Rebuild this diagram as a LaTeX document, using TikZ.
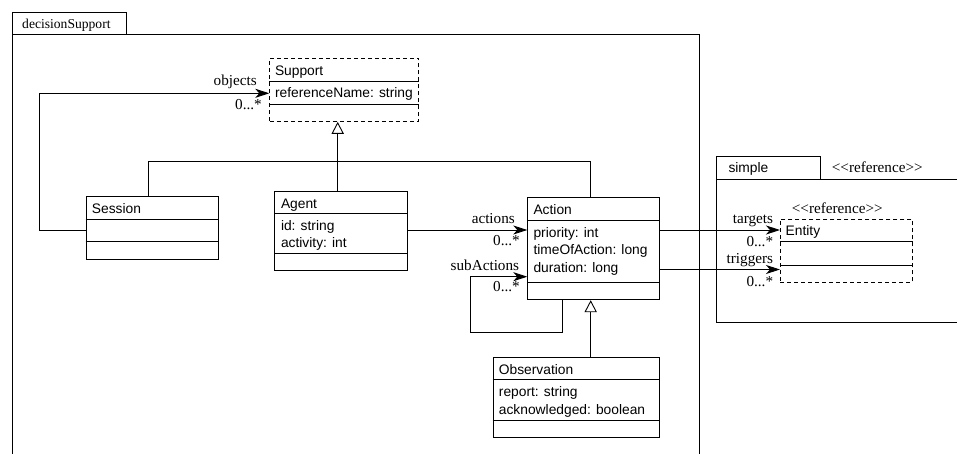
\documentclass[tikz,border=0pt]{standalone}
\usepackage{fontspec}
\setmainfont{Liberation Serif}
\setsansfont{Liberation Sans}
\usetikzlibrary{arrows.meta}
\begin{document}
\begin{tikzpicture}[x=1pt,y=-1pt,
  ln/.style={line width=0.9pt},
  box/.style={draw, line width=0.9pt, anchor=north west, inner sep=0pt},
  dbox/.style={box, dash pattern=on 4pt off 3pt},
  cls/.style={font=\fontsize{13.8}{16}\sffamily, anchor=base west, inner sep=0pt},
  lbl/.style={font=\fontsize{15.2}{17}\selectfont, anchor=base east, inner sep=0pt},
  stereo/.style={font=\fontsize{15.2}{17}\selectfont, anchor=base west, inner sep=0pt},
  assoc/.style={-{Stealth[length=14pt,width=9pt,inset=4pt]}, line width=0.9pt},
  gen/.style={-{Triangle[open,length=12pt,width=12.3pt]}, line width=0.9pt}]
\useasboundingbox (0,0) rectangle (957,454);

% package decisionSupport
\draw[ln] (12,454) -- (12,12.3) -- (126,12.3) -- (126,34.7);
\draw[ln] (12,34.7) -- (699,34.7) -- (699,454);
\node[font=\fontsize{13.6}{16}\selectfont, anchor=base west, inner sep=0pt] (dstitle) at (22,29) {decisionSupport};

% package simple
\draw[ln] (716,179) -- (716,156) -- (820,156) -- (820,179);
\draw[ln] (957,179) -- (716,179) -- (716,322) -- (957,322);
\node[cls] (simpletitle) at (728.3,172.7) {simple};
\node[stereo] (simplestereo) at (831.7,172.7) {<{}<reference>{}>};

% Support
\node[dbox, minimum width=149pt, minimum height=63pt] (support) at (269.3,58) {};
\draw[ln] (support.west |- 0,81) -- (support.east |- 0,81);
\draw[ln] (support.west |- 0,104) -- (support.east |- 0,104);
\node[cls] (supportname) at (274.8,76) {Support};
\node[cls] (supporta1) at (274.8,98) {referenceName: string};

% Session
\node[box, minimum width=132pt, minimum height=63.3pt] (session) at (85.7,195.7) {};
\draw[ln] (session.west |- 0,219) -- (session.east |- 0,219);
\draw[ln] (session.west |- 0,241.7) -- (session.east |- 0,241.7);
\node[cls] (sessionname) at (91.7,213.3) {Session};

% Agent
\node[box, minimum width=132.7pt, minimum height=79.6pt] (agent) at (274.3,190.7) {};
\draw[ln] (agent.west |- 0,213.3) -- (agent.east |- 0,213.3);
\draw[ln] (agent.west |- 0,253.3) -- (agent.east |- 0,253.3);
\node[cls] (agentname) at (280.8,208.4) {Agent};
\node[cls] (agenta1) at (280.8,230) {id: string};
\node[cls] (agenta2) at (280.8,247.7) {activity: int};

% Action
\node[box, minimum width=132pt, minimum height=102.6pt] (action) at (527.3,196.7) {};
\draw[ln] (action.west |- 0,220) -- (action.east |- 0,220);
\draw[ln] (action.west |- 0,282.3) -- (action.east |- 0,282.3);
\node[cls] (actionname) at (533.3,214.4) {Action};
\node[cls] (actiona1) at (533.3,237) {priority: int};
\node[cls] (actiona2) at (533.3,254.7) {timeOfAction: long};
\node[cls] (actiona3) at (533.3,272.4) {duration: long};

% Observation
\node[box, minimum width=166.6pt, minimum height=80pt] (observation) at (492.7,356.7) {};
\draw[ln] (observation.west |- 0,379.3) -- (observation.east |- 0,379.3);
\draw[ln] (observation.west |- 0,420) -- (observation.east |- 0,420);
\node[cls] (obsname) at (498.7,374.4) {Observation};
\node[cls] (obsa1) at (498.7,396.3) {report: string};
\node[cls] (obsa2) at (498.7,414) {acknowledged: boolean};

% Entity
\node[dbox, minimum width=132pt, minimum height=63pt] (entity) at (780,219) {};
\draw[ln] (entity.west |- 0,241.7) -- (entity.east |- 0,241.7);
\draw[ln] (entity.west |- 0,265) -- (entity.east |- 0,265);
\node[cls] (entityname) at (785.5,235) {Entity};
\node[stereo] (entitystereo) at (791.7,214) {<{}<reference>{}>};

% generalizations
\draw[gen] (agent.north -| 337.7,0) -- (support.south -| 337.7,0);
\draw[ln] (session.north -| 148.7,0) -- (148.7,161.7) -- (590.7,161.7) -- (action.north -| 590.7,0);
\draw[gen] (observation.north -| 590.7,0) -- (action.south -| 590.7,0);

% associations
\draw[assoc] (session.west |- 0,230.7) -- (39.3,230.7) |- (support.west |- 0,93.3);
\node[lbl] (objlbl) at (257,86) {objects};
\node[lbl] (objmul) at (262,109.5) {0...*};

\draw[assoc] (agent.east |- 0,230) -- (action.west |- 0,230);
\node[lbl] (actlbl) at (515,224) {actions};
\node[lbl] (actmul) at (520,245.7) {0...*};

\draw[assoc] (action.south -| 562,0) -- (562,332) -| (470,276.7) -- (action.west |- 0,276.7);
\node[lbl] (sublbl) at (519.3,270.7) {subActions};
\node[lbl] (submul) at (520,291.7) {0...*};

\draw[assoc] (action.east |- 0,230) -- (entity.west |- 0,230);
\node[lbl] (tgtlbl) at (773.3,224) {targets};
\node[lbl] (tgtmul) at (773.3,246.7) {0...*};

\draw[assoc] (action.east |- 0,269.5) -- (entity.west |- 0,269.5);
\node[lbl] (trglbl) at (773.3,263) {triggers};
\node[lbl] (trgmul) at (773.3,286.7) {0...*};
\end{tikzpicture}
\end{document}
